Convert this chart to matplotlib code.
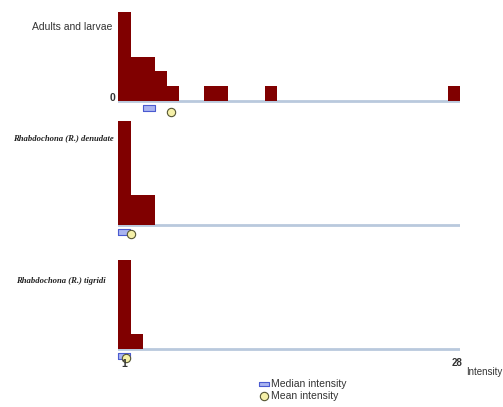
import numpy as np
import matplotlib
matplotlib.use('Agg')
import matplotlib.pyplot as plt

# intensity bins 1..28, counts per bin for each group
bins = np.arange(1, 29)
adults_counts = [6, 3, 3, 2, 1, 0, 0, 1, 1, 0, 0, 0, 1, 0, 0, 0, 0, 0, 0, 0, 0, 0, 0, 0, 0, 0, 0, 1]
denudata_counts = [7, 2, 2] + [0] * 25
tigridi_counts = [6, 1] + [0] * 26

labels = ["Adults and larvae", "Rhabdochona (R.) denudate", "Rhabdochona (R.) tigridi"]
medians = [3, 1, 1]
means = [4.84, 1.55, 1.14]

W, H = 503, 407
BAR = '#800000'
LINE = '#b9c9dd'
U = 14.8          # pixels per count
x0_px, x1_px = 118.3, 460.0
baselines = [101.0, 225.0, 349.0]
RECT = [(-1, -0.5), (1, -0.5), (1, 0.5), (-1, 0.5), (-1, -0.5)]


def fx(px):
    return px / W


def fy(py):
    return 1 - py / H


fig = plt.figure(figsize=(W / 100, H / 100), dpi=100)

all_counts = [adults_counts, denudata_counts, tigridi_counts]
for i, counts in enumerate(all_counts):
    b = baselines[i]
    top, bot = b - 112, b + 18
    ax = fig.add_axes([fx(x0_px), fy(bot), fx(x1_px - x0_px), (bot - top) / H])
    ax.set_xlim(1, 1 + (x1_px - x0_px) / 12.2)
    ax.set_ylim(-18 / U, 112 / U)
    ax.axis('off')
    ax.axhline(0, color=LINE, lw=2, zorder=1)
    ax.bar(bins, counts, width=1, align='edge', color=BAR, zorder=2)
    # median box (bin centre) and mean circle
    ax.plot(medians[i] + 0.5, -0.45, marker=RECT, ms=8, mfc='#aab4f0', mec='#4a5ad0',
            mew=0.8, clip_on=False, zorder=3)
    ax.plot(means[i] + 0.5, -0.75 if i == 0 else -0.62, marker='o', ms=6, mfc='#f5f0a8',
            mec='#555533', mew=0.8, clip_on=False, zorder=4)

fig.text(fx(112), fy(27), labels[0], ha='right', va='center',
         family='Liberation Sans', fontsize=7.5, color='#333333')
fig.text(fx(115), fy(98), "0", ha='right', va='center',
         family='Liberation Sans', fontsize=7.5, weight='bold', color='#333333')
fig.text(fx(63.5), fy(138.5), labels[1], ha='center', va='center',
         family='Liberation Serif', fontsize=6.2, style='italic', weight='bold', color='#222222')
fig.text(fx(61), fy(281), labels[2], ha='center', va='center',
         family='Liberation Serif', fontsize=6.2, style='italic', weight='bold', color='#222222')

fig.text(fx(124.5), fy(364), "1", ha='center', va='center',
         family='Liberation Sans', fontsize=7.5, weight='bold', color='#333333')
fig.text(fx(457.5), fy(363), "28", ha='center', va='center',
         family='Liberation Sans', fontsize=7, weight='bold', color='#333333')
fig.text(fx(466), fy(372), "Intensity", ha='left', va='center',
         family='Liberation Sans', fontsize=7, color='#333333')

# legend
fig.lines.append(plt.Line2D([fx(263.7)], [fy(384)], marker=RECT, ms=7, mfc='#aab4f0',
                            mec='#4a5ad0', mew=0.8, transform=fig.transFigure))
fig.lines.append(plt.Line2D([fx(263.5)], [fy(396)], marker='o', ms=6, mfc='#f5f0a8',
                            mec='#555533', mew=0.8, transform=fig.transFigure))
fig.text(fx(271), fy(384), "Median intensity", ha='left', va='center',
         family='Liberation Sans', fontsize=7.5, color='#333333')
fig.text(fx(271), fy(396), "Mean intensity", ha='left', va='center',
         family='Liberation Sans', fontsize=7.5, color='#333333')

fig.savefig('out.png', dpi=100)
